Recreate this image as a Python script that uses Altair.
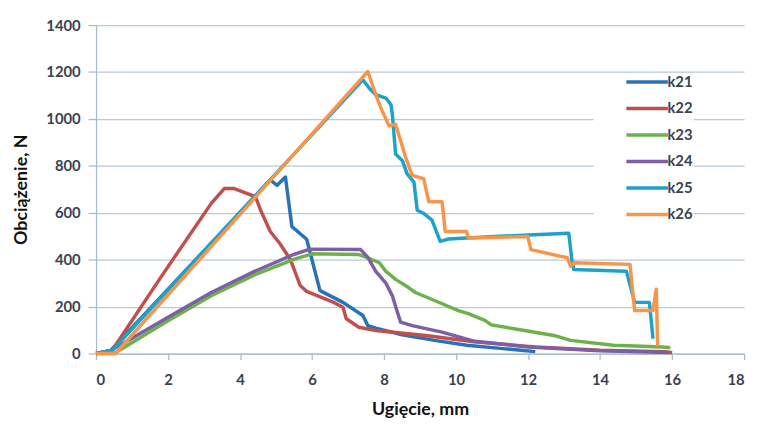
import altair as alt
import pandas as pd

series_names = ["k21", "k22", "k23", "k24", "k25", "k26"]
series_colors = ["#2a72b8", "#c0504d", "#6cb24a", "#7d5fa6", "#1ea2c9", "#f7964a"]

k21_x = [0, 0.4, 4.84, 5.03, 5.26, 5.44, 5.85, 6.22, 6.86, 7.41, 7.55, 7.77, 8.5, 9.4, 10.3, 11.3, 11.8, 12.2]
k21_y = [0, 12, 740, 717, 752, 541, 487, 268, 218, 162, 119, 108, 80, 56, 35, 21, 14, 8]

k22_x = [0, 0.45, 1.82, 3.2, 3.56, 3.84, 4.43, 4.57, 4.84, 5.1, 5.4, 5.67, 5.85, 6.6, 6.86, 6.95, 7.3, 7.77, 9.15, 10.5, 12.2, 14.0, 15.8, 16.0]
k22_y = [0, 14, 330, 640, 703, 703, 668, 611, 520, 470, 400, 290, 265, 218, 197, 148, 112, 98, 77, 50, 28, 14, 8, 3]

k23_x = [0, 0.5, 2.0, 3.2, 4.4, 5.49, 6.0, 7.3, 7.59, 7.87, 8.05, 8.32, 8.69, 8.87, 9.42, 10.06, 10.34, 10.8, 10.98, 11.9, 12.72, 13.18, 14.37, 15.74, 15.95]
k23_y = [0, 0, 140, 246, 335, 401, 425, 422, 405, 387, 350, 316, 280, 260, 225, 183, 170, 141, 122, 98, 77, 56, 35, 28, 25]

k24_x = [0, 0.4, 2.0, 3.2, 4.4, 5.49, 5.94, 7.35, 7.55, 7.77, 8.05, 8.23, 8.37, 8.46, 8.78, 9.61, 10.52, 12.0, 14.0, 15.9]
k24_y = [0, 12, 155, 260, 350, 422, 445, 443, 410, 350, 300, 246, 176, 134, 119, 91, 52, 28, 12, 4]

k25_x = [0, 0.45, 7.41, 7.59, 7.77, 8.05, 8.19, 8.23, 8.32, 8.51, 8.64, 8.83, 8.92, 9.10, 9.33, 9.56, 9.79, 11.07, 12.17, 13.13, 13.22, 13.27, 14.73, 14.96, 15.37, 15.47]
k25_y = [0, 14, 1167, 1131, 1103, 1089, 1061, 1019, 850, 822, 766, 731, 611, 597, 569, 478, 488, 499, 506, 513, 394, 358, 351, 218, 218, 63]

k26_x = [0, 0.54, 7.55, 7.77, 7.91, 8.14, 8.32, 8.46, 8.60, 8.78, 9.10, 9.24, 9.61, 9.70, 10.29, 10.34, 11.99, 12.08, 13.09, 13.18, 13.27, 14.83, 14.96, 15.47, 15.56, 15.60]
k26_y = [0, 0, 1202, 1103, 1047, 970, 977, 907, 836, 759, 745, 647, 647, 520, 520, 492, 499, 443, 408, 372, 387, 380, 183, 183, 274, 30]

x_ticks = [0, 2, 4, 6, 8, 10, 12, 14, 16, 18]
y_ticks = [0, 200, 400, 600, 800, 1000, 1200, 1400]

all_x = [k21_x, k22_x, k23_x, k24_x, k25_x, k26_x]
all_y = [k21_y, k22_y, k23_y, k24_y, k25_y, k26_y]

rows = []
for name, xs, ys in zip(series_names, all_x, all_y):
    for i, (xv, yv) in enumerate(zip(xs, ys)):
        rows.append({"seria": name, "x": xv, "y": yv, "i": i})
df = pd.DataFrame(rows)

label_color = "#3a4250"
font = "Lato"

chart = alt.Chart(df).mark_line(strokeWidth=3.5, strokeJoin="round").encode(
    x=alt.X("x:Q",
            scale=alt.Scale(domain=[0, 18], nice=False),
            axis=alt.Axis(values=x_ticks, title="Ugięcie, mm", grid=False, format="d",
                          tickSize=6, labelPadding=13, titleY=57, titleBaseline="middle")),
    y=alt.Y("y:Q",
            scale=alt.Scale(domain=[0, 1400], nice=False),
            axis=alt.Axis(values=y_ticks, title="Obciążenie, N", grid=True, format="d",
                          tickSize=8, labelPadding=8, titleX=-75, titleY=166,
                          titleBaseline="middle", titleAngle=270)),
    color=alt.Color("seria:N",
                    scale=alt.Scale(domain=series_names, range=series_colors),
                    legend=alt.Legend(title=None, orient="none", legendX=503, legendY=49,
                                      fillColor="white", padding=1,
                                      symbolType="M-5.25,0H5.25", symbolSize=64,
                                      symbolStrokeWidth=3.5, symbolOffset=45.5,
                                      labelOffset=13, rowPadding=10.8,
                                      labelFontSize=15, labelFont=font,
                                      labelFontWeight="bold", labelColor=label_color)),
    order=alt.Order("i:Q"),
).properties(
    width=655, height=332,
    autosize=alt.AutoSizeParams(type="none"),
    padding={"left": 89, "top": 15, "right": 8, "bottom": 70},
).configure_axis(
    labelFont=font, labelFontSize=15, labelFontWeight="bold", labelColor=label_color,
    titleFont=font, titleFontSize=18, titleFontWeight="bold", titleColor="#111111",
    domainColor="#a8bccd", domainWidth=1.3, tickColor="#a8bccd", tickWidth=1.3,
    gridColor="#b9c9d8", gridWidth=1.3,
).configure_view(stroke=None)

chart.save("out.html", embed_options={"renderer": "svg", "actions": False})
